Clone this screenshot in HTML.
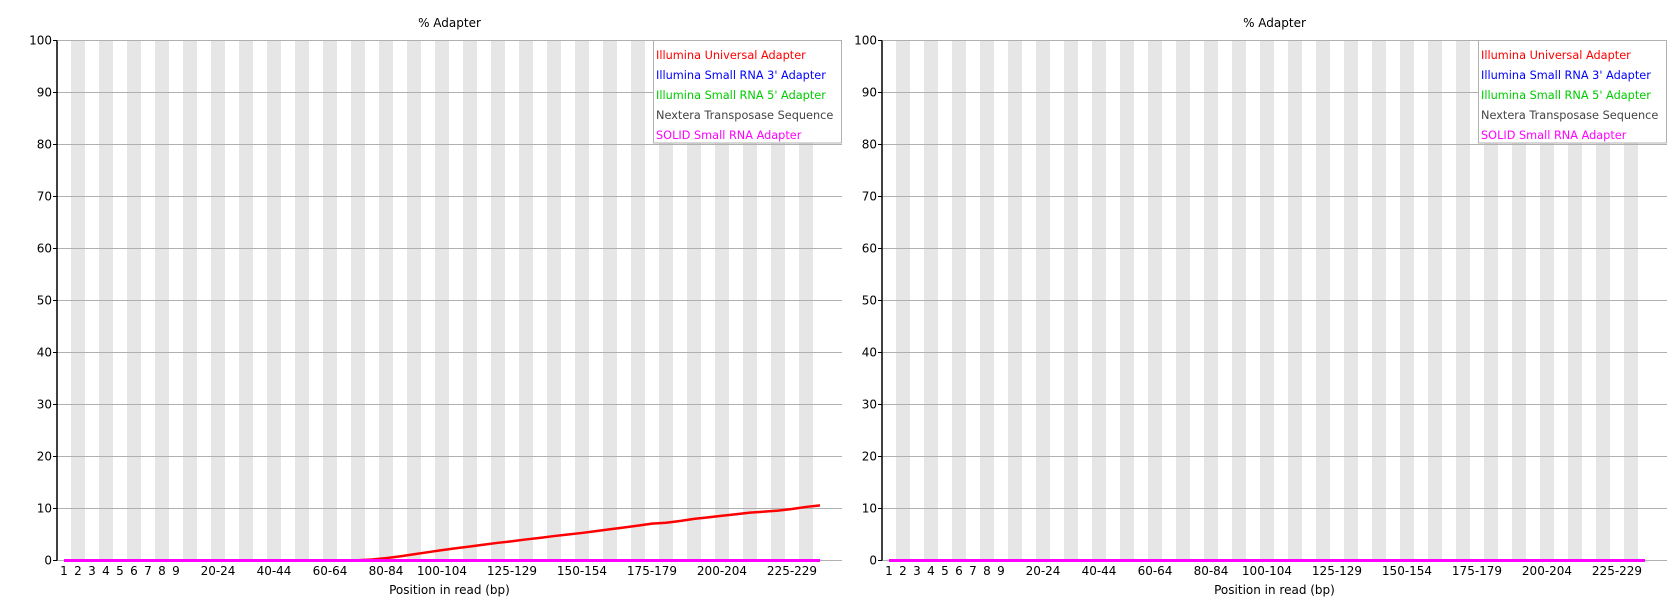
<!DOCTYPE html>
<html><head><meta charset="utf-8"><style>
html,body{margin:0;padding:0;background:#fff}
svg{display:block;font-family:"DejaVu Sans","Liberation Sans",sans-serif}
</style></head><body>
<svg id="svg" width="1677" height="600" viewBox="0 0 1677 600" xmlns="http://www.w3.org/2000/svg"></svg>
<script>
const yTicks = [0,10,20,30,40,50,60,70,80,90,100];
const shownLabels = ["1","2","3","4","5","6","7","8","9","20-24","40-44","60-64","80-84","100-104","125-129","150-154","175-179","200-204","225-229"];
const legendNames = ["Illumina Universal Adapter","Illumina Small RNA 3' Adapter","Illumina Small RNA 5' Adapter","Nextera Transposase Sequence","SOLID Small RNA Adapter"];
const legendColors = ["#ff0000","#0000ff","#00cc00","#444444","#ff00ff"];
const leftUniversal = [0,0,0,0,0,0,0,0,0,0,0,0,0,0,0,0,0,0,0,0,0,0.05,0.2,0.45,0.8,1.2,1.6,2.0,2.35,2.7,3.05,3.4,3.7,4.05,4.35,4.7,5.0,5.3,5.65,6.0,6.35,6.7,7.1,7.25,7.6,8.0,8.3,8.6,8.9,9.2,9.4,9.6,9.9,10.3,10.6];
const rightUniversal = new Array(55).fill(0);
const otherSeries = new Array(55).fill(0);

const NS="http://www.w3.org/2000/svg";
const svg=document.getElementById('svg');
function el(tag,attrs,parent){const e=document.createElementNS(NS,tag);for(const k in attrs)e.setAttribute(k,attrs[k]);(parent||svg).appendChild(e);return e;}
function colLabel(i){if(i<9)return String(i+1);const s=10+(i-9)*5;return s+"-"+(s+4);}

function drawChart(ox,univ,prefix){
  const g=el('g',{});
  
  
  const x0=ox+57,x1=ox+842,yTop=40.5,yBot=560.5,cw=14,n=univ.length;
  const yS=v=>yBot-(v/100)*(yBot-yTop);
  const xS=i=>x0+cw*(i+0.5);
  for(let i=1;i<n;i+=2){
    const r=el('rect',{x:x0+cw*i,y:yTop,width:cw,height:yBot-yTop,fill:'#e6e6e6'},g);
    
    
  }
  yTicks.forEach(v=>{
    const l=el('line',{x1:x0,x2:x1,y1:yS(v),y2:yS(v),stroke:'#b0b0b0','stroke-width':1},g);
    
    
    el('line',{x1:x0-4,x2:x0,y1:yS(v),y2:yS(v),stroke:'#000'},g);
    const t=el('text',{x:x0-5,y:yS(v)+4,'text-anchor':'end','font-size':12,fill:'#000'},g);
    t.textContent=v;
    
    
  });
  const ax=el('line',{x1:x0,x2:x0,y1:yTop,y2:yBot,stroke:'#000','stroke-width':1.5},g);
  
  
  for(let i=0;i<n;i++){
    const lab=colLabel(i);
    if(shownLabels.indexOf(lab)<0)continue;
    const t=el('text',{x:xS(i),y:575,'text-anchor':'middle','font-size':12,fill:'#000'},g);
    t.textContent=lab;
    
    
  }
  const title=el('text',{x:(x0+x1)/2,y:27,'text-anchor':'middle','font-size':12},g);
  title.textContent='% Adapter';
  
  
  const xt=el('text',{x:(x0+x1)/2,y:594,'text-anchor':'middle','font-size':12},g);
  xt.textContent='Position in read (bp)';
  
  
  const series=[univ,otherSeries,otherSeries,otherSeries,otherSeries];
  const order=[1,2,3,0,4];
  order.forEach(s=>{
    const pts=series[s].map((v,i)=>xS(i)+','+yS(v)).join(' ');
    const p=el('polyline',{points:pts,fill:'none',stroke:legendColors[s],'stroke-width':s===4?3:2.5},g);
    
    
  });
  const lb=el('rect',{x:ox+653.5,y:40.5,width:188,height:102.5,fill:'#fff',stroke:'#b0b0b0'},g);
  
  
  legendNames.forEach((nm,k)=>{
    const t=el('text',{x:ox+656,y:59+k*20,'font-size':11.3,fill:legendColors[k]},g);
    t.textContent=nm;
    
    
  });
}
drawChart(0,leftUniversal,'left');
drawChart(825,rightUniversal,'right');
</script>
</body></html>
